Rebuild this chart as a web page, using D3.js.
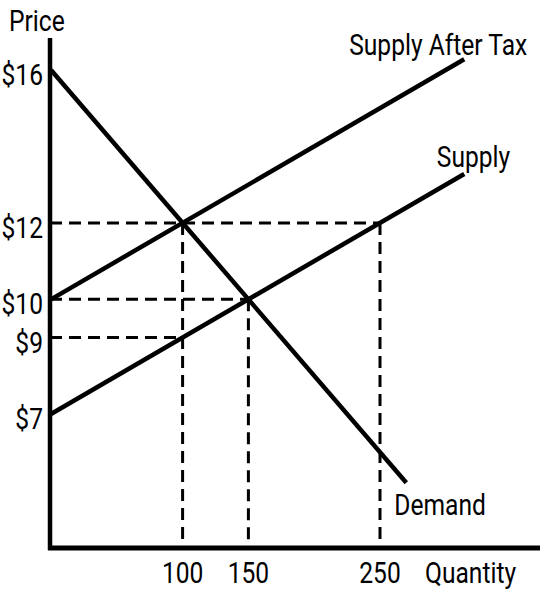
<!DOCTYPE html>
<html>
<head>
<meta charset="utf-8">
<script src="https://cdnjs.cloudflare.com/ajax/libs/d3/7.8.5/d3.min.js"></script>
<style>
  html, body { margin: 0; padding: 0; background: #fff; }
  #chart { width: 540px; height: 590px; }
</style>
</head>
<body>
<div id="chart"></div>
<script>
// price ticks on the vertical axis, quantity ticks on the horizontal one
var priceTicks = [16, 12, 10, 9, 7];
var qtyTicks = [100, 150, 250];

// the three curves, as (quantity, price) end points
var demand = [{ q: 0, p: 16 }, { q: 270, p: 5.2 }];
var supply = [{ q: 0, p: 7 }, { q: 314, p: 13.28 }];
var supplyTax = [{ q: 0, p: 10 }, { q: 314, p: 16.28 }];

// dashed guide lines: horizontal from the axis, vertical down to the axis
var hGuides = [{ p: 12, q: 250 }, { p: 10, q: 150 }, { p: 9, q: 100 }];
var vGuides = [{ q: 100, p: 12 }, { q: 150, p: 10 }, { q: 250, p: 12 }];

var width = 540, height = 590;
var axisX = 50, axisY = 548;
var squeeze = 0.82; // the reference uses a condensed face

var x = d3.scaleLinear().domain([0, 250]).range([51, 380]);
var y = d3.scaleLinear().domain([7, 16]).range([414, 70]);

var svg = d3.select('#chart')
  .append('svg')
  .attr('width', width)
  .attr('height', height)
  .attr('font-family', 'Roboto, sans-serif')
  .attr('font-size', 30)
  .attr('fill', '#000');

// text drawn narrower than the font, anchored at (tx, ty)
function label(g, tx, ty, str, anchor) {
  return g.append('text')
    .attr('transform', 'translate(' + tx + ',' + ty + ') scale(' + squeeze + ',1)')
    .attr('text-anchor', anchor || 'start')
    .text(str);
}

var line = d3.line()
  .x(function(d) { return x(d.q); })
  .y(function(d) { return y(d.p); });

// guides
svg.append('g')
  .selectAll('line')
  .data(hGuides)
  .enter().append('line')
    .attr('x1', axisX)
    .attr('x2', function(d) { return x(d.q); })
    .attr('y1', function(d) { return y(d.p); })
    .attr('y2', function(d) { return y(d.p); })
    .attr('stroke', '#000')
    .attr('stroke-width', 3)
    .attr('stroke-dasharray', '12,7');

svg.append('g')
  .selectAll('line')
  .data(vGuides)
  .enter().append('line')
    .attr('x1', function(d) { return x(d.q); })
    .attr('x2', function(d) { return x(d.q); })
    .attr('y1', function(d) { return y(d.p); })
    .attr('y2', axisY)
    .attr('stroke', '#000')
    .attr('stroke-width', 3)
    .attr('stroke-dasharray', '12,7');

// curves
[demand, supply, supplyTax].forEach(function(c) {
  svg.append('path')
    .datum(c)
    .attr('d', line)
    .attr('fill', 'none')
    .attr('stroke', '#000')
    .attr('stroke-width', 4.5);
});

// axes
svg.append('line')
  .attr('x1', axisX).attr('x2', axisX)
  .attr('y1', 38).attr('y2', axisY + 2)
  .attr('stroke', '#000')
  .attr('stroke-width', 4.5);

svg.append('line')
  .attr('x1', axisX - 2).attr('x2', width)
  .attr('y1', axisY).attr('y2', axisY)
  .attr('stroke', '#000')
  .attr('stroke-width', 5);

// tick labels
var yl = svg.append('g');
priceTicks.forEach(function(d) {
  label(yl, 43, y(d) + 15, '$' + d, 'end');
});

var xl = svg.append('g');
qtyTicks.forEach(function(d) {
  label(xl, x(d), 583, d, 'middle');
});

// axis titles
label(svg, 9, 31, 'Price');
label(svg, 425, 583, 'Quantity');

// curve labels, placed from each curve's end point
var last = function(c) { return c[c.length - 1]; };
label(svg, x(last(supplyTax).q) + 63, y(last(supplyTax).p) - 4, 'Supply After Tax', 'end');
label(svg, x(last(supply).q) + 46, y(last(supply).p) - 7, 'Supply', 'end');
label(svg, x(last(demand).q) - 12, y(last(demand).p) + 32, 'Demand');
</script>
</body>
</html>
